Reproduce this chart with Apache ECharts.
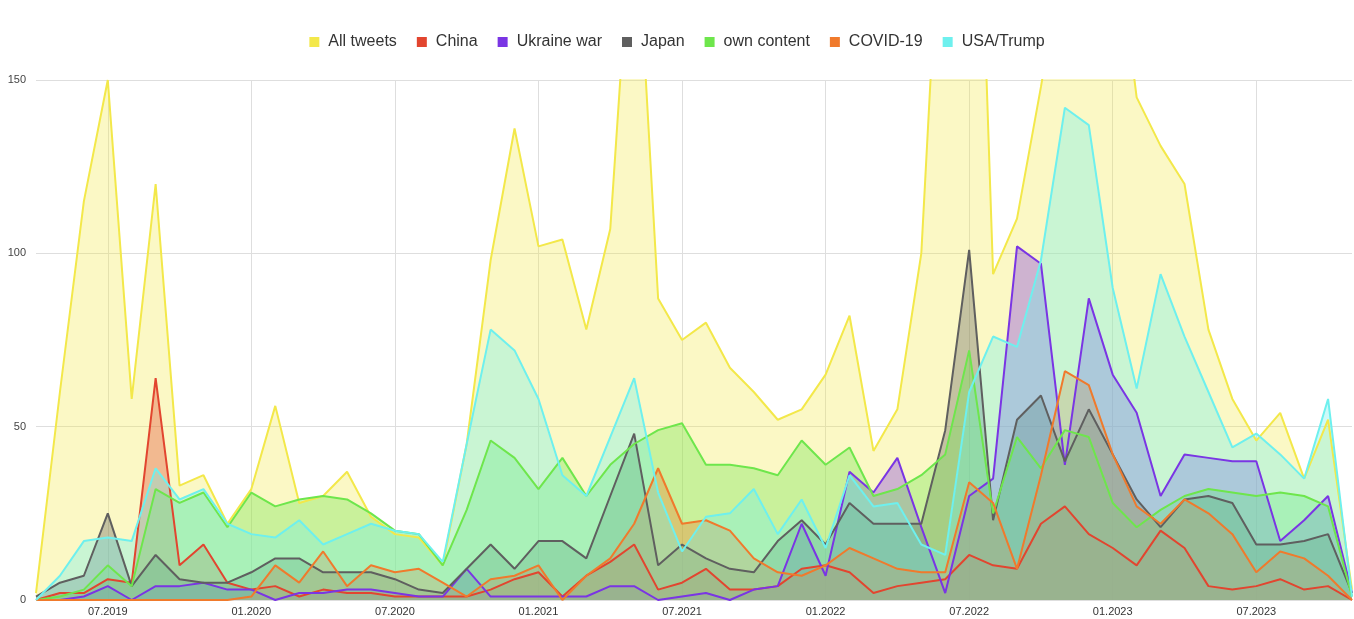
<!DOCTYPE html>
<html>
<head>
<meta charset="utf-8">
<script src="https://cdn.jsdelivr.net/npm/echarts@6/dist/echarts.min.js"></script>
<style>
html,body{margin:0;padding:0;background:#fff;}
#chart{width:1354px;height:619px;}
</style>
</head>
<body>
<div id="chart"></div>
<script>
const months = [
 "04.2019","05.2019","06.2019","07.2019","08.2019","09.2019","10.2019","11.2019","12.2019",
 "01.2020","02.2020","03.2020","04.2020","05.2020","06.2020","07.2020","08.2020","09.2020","10.2020","11.2020","12.2020",
 "01.2021","02.2021","03.2021","04.2021","05.2021","06.2021","07.2021","08.2021","09.2021","10.2021","11.2021","12.2021",
 "01.2022","02.2022","03.2022","04.2022","05.2022","06.2022","07.2022","08.2022","09.2022","10.2022","11.2022","12.2022",
 "01.2023","02.2023","03.2023","04.2023","05.2023","06.2023","07.2023","08.2023","09.2023","10.2023","11.2023"
];
const allTweets = [2,60,115,150,58,120,33,36,22,32,56,28,30,37,24,19,18,10,45,98,136,102,104,78,107,210,87,75,80,67,60,52,55,65,82,43,55,100,230,300,94,110,148,190,200,200,145,131,120,78,58,46,54,35,52,3];
const china = [0,2,2,6,5,64,10,16,5,3,4,1,3,2,2,1,1,1,1,3,6,8,1,7,11,16,3,5,9,3,3,4,9,10,8,2,4,5,6,13,10,9,22,27,19,15,10,20,15,4,3,4,6,3,4,0];
const ukraine = [0,0,1,4,0,4,4,5,3,3,0,2,2,3,3,2,1,1,9,1,1,1,1,1,4,4,0,1,2,0,3,4,22,7,37,31,41,21,2,30,35,102,97,39,87,65,54,30,42,41,40,40,17,23,30,2];
const japan = [1,5,7,25,4,13,6,5,5,8,12,12,8,8,8,6,3,2,9,16,9,17,17,12,30,48,10,16,12,9,8,17,23,16,28,22,22,22,49,101,23,52,59,40,55,42,29,21,29,30,28,16,16,17,19,2];
const ownContent = [0,1,3,10,4,32,28,31,21,31,27,29,30,29,25,20,19,10,26,46,41,32,41,30,39,45,49,51,39,39,38,36,46,39,44,30,32,36,42,72,25,47,38,49,47,28,21,26,30,32,31,30,31,30,27,1];
const covid = [0,0,0,0,0,0,0,0,0,1,10,5,14,4,10,8,9,5,1,6,7,10,0,7,12,22,38,22,23,20,12,8,7,10,15,12,9,8,8,34,28,9,36,66,62,42,27,22,29,25,19,8,14,12,7,0];
const usaTrump = [0,7,17,18,17,38,29,32,22,19,18,23,16,19,22,20,19,11,45,78,72,58,36,30,47,64,31,14,24,25,32,19,29,15,36,27,28,16,13,60,76,73,98,142,137,90,61,94,76,60,44,48,42,35,58,1];

const seriesNames = ["All tweets","China","Ukraine war","Japan","own content","COVID-19","USA/Trump"];
const seriesData = [allTweets, china, ukraine, japan, ownContent, covid, usaTrump];
const colors = ["#f3e84a","#e2452f","#7a35e4","#5f5f5f","#6ee64c","#f07a2c","#6ef0ee"];
const yTicks = [0,50,100,150];

const showIdx = (i, v) => /^0[17]\./.test(months[i]);
const FONT = '"Liberation Sans", Arial, sans-serif';

const chart = echarts.init(document.getElementById('chart'), null, {renderer:'canvas'});
chart.setOption({
  animation:false,
  color: colors,
  textStyle:{fontFamily:FONT},
  legend:{
    top:34, left:'center', icon:'rect', itemWidth:10, itemHeight:10, itemGap:20, padding:0,
    textStyle:{fontSize:16, color:'#333', fontFamily:FONT, padding:[0,0,0,4]},
    data: seriesNames
  },
  grid:{left:36, right:2, top:80, bottom:19, containLabel:false, outerBoundsMode:'none'},
  xAxis:{
    type:'category', data:months, boundaryGap:false,
    axisLine:{show:false}, axisTick:{show:false},
    axisLabel:{interval:showIdx, fontSize:11, color:'#333', margin:6, fontFamily:FONT},
    splitLine:{show:true, interval:showIdx, lineStyle:{color:'#dedede', width:1}}
  },
  yAxis:{
    type:'value', min:yTicks[0], max:yTicks[yTicks.length-1], interval:50,
    axisLine:{show:false}, axisTick:{show:false},
    axisLabel:{fontSize:11, color:'#444', margin:10, fontFamily:FONT},
    splitLine:{show:true, lineStyle:{color:'#dedede', width:1}}
  },
  series: seriesNames.map((n,k)=>({
    name:n, type:'line', data:seriesData[k], showSymbol:false, symbol:'none',
    clip:true,
    lineStyle:{width:2, color:colors[k]},
    itemStyle:{color:colors[k]},
    areaStyle:{color:colors[k], opacity: k===0 ? 0.32 : 0.35}
  }))
});
</script>
</body>
</html>
